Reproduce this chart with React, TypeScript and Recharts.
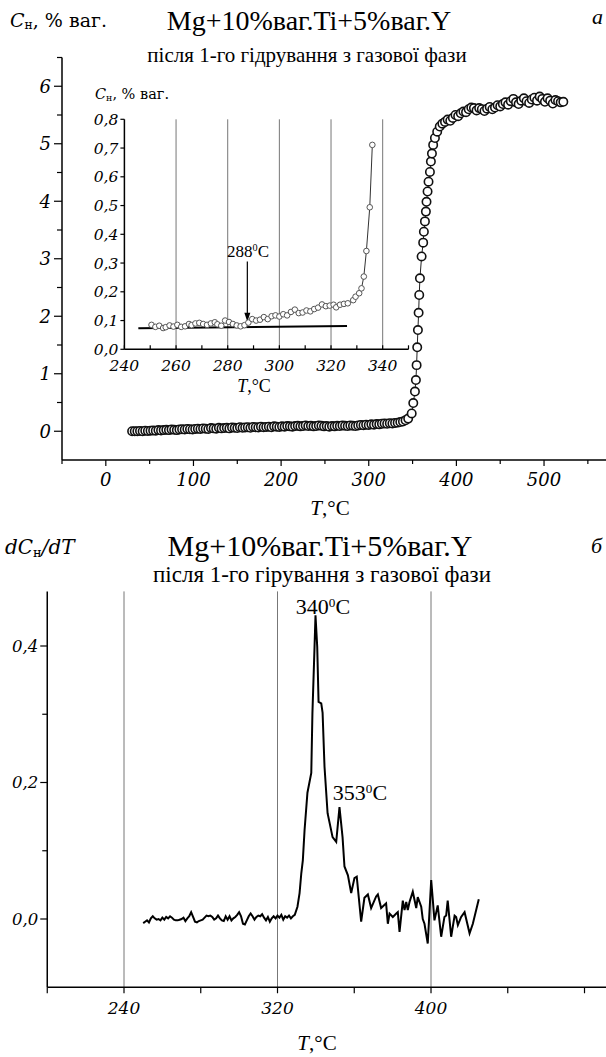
import React from "react";
import { LineChart, Line, XAxis, YAxis, ReferenceLine } from "recharts";

// ---------- (a) hydrogen content vs temperature ----------
const mainFlat: [number, number][] = [
  [30, 0], [33, 0], [36, 0], [39, 0.005], [42, 0], [45, 0.01], [48, 0.005], [51, 0.01],
  [54, 0.015], [57, 0.01], [60, 0.02], [63, 0.015], [66, 0.02], [69, 0.025], [72, 0.02],
  [75, 0.03], [78, 0.025], [81, 0.02], [84, 0.03], [87, 0.035], [90, 0.03], [93, 0.04],
  [96, 0.035], [99, 0.03], [102, 0.04], [105, 0.045], [108, 0.04], [111, 0.05], [114, 0.045],
  [117, 0.04], [120, 0.055], [123, 0.05], [126, 0.045], [129, 0.06], [132, 0.05], [135, 0.055],
  [138, 0.06], [141, 0.05], [144, 0.065], [147, 0.06], [150, 0.055], [153, 0.07], [156, 0.06],
  [159, 0.065], [162, 0.07], [165, 0.06], [168, 0.075], [171, 0.07], [174, 0.065], [177, 0.08],
  [180, 0.07], [183, 0.075], [186, 0.08], [189, 0.07], [192, 0.085], [195, 0.08], [198, 0.075],
  [201, 0.085], [204, 0.08], [207, 0.09], [210, 0.085], [213, 0.08], [216, 0.09], [219, 0.095],
  [222, 0.085], [225, 0.09], [228, 0.1], [231, 0.09], [234, 0.095], [237, 0.085], [240, 0.09],
  [243, 0.1], [246, 0.095], [249, 0.085], [252, 0.09], [255, 0.08], [258, 0.09], [261, 0.085],
  [264, 0.095], [267, 0.09], [270, 0.1], [273, 0.095], [276, 0.09], [279, 0.1], [282, 0.095],
  [285, 0.09], [288, 0.1], [291, 0.11], [294, 0.105], [297, 0.115], [300, 0.11], [303, 0.12],
  [306, 0.115], [309, 0.125], [312, 0.12], [315, 0.13], [318, 0.135], [321, 0.13], [324, 0.14],
  [327, 0.135], [330, 0.145], [333, 0.15], [336, 0.16], [339, 0.17], [342, 0.19], [345, 0.22],
];
const mainRise: [number, number][] = [
  [349, 0.31], [350.8, 0.49], [352.7, 0.69], [353.8, 0.89], [354.6, 1.15], [355.3, 1.46],
  [356.1, 1.76], [356.9, 2.06], [357.6, 2.37], [358.4, 2.66], [360.3, 3.04], [362.1, 3.28],
  [362.9, 3.47], [364.1, 3.65], [365.2, 3.82], [365.9, 3.99], [367.1, 4.17], [368.2, 4.34],
  [369.8, 4.51], [370.9, 4.69], [372.1, 4.83], [373.5, 4.98], [375.5, 5.1], [378.1, 5.21],
];
const mainPlateau: [number, number][] = [
  [381, 5.3], [384, 5.35], [387, 5.38], [390, 5.42], [393, 5.4], [396, 5.45], [399, 5.5],
  [402, 5.48], [405, 5.53], [408, 5.56], [411, 5.55], [414, 5.6], [417, 5.63], [420, 5.62],
  [423, 5.58], [426, 5.62], [429, 5.6], [432, 5.57], [435, 5.61], [438, 5.64], [441, 5.6],
  [444, 5.63], [447, 5.67], [450, 5.65], [453, 5.69], [456, 5.72], [459, 5.68], [462, 5.74],
  [465, 5.78], [468, 5.72], [471, 5.69], [474, 5.75], [477, 5.79], [480, 5.74], [483, 5.71],
  [486, 5.77], [489, 5.8], [492, 5.75], [495, 5.82], [498, 5.78], [501, 5.73], [504, 5.79],
  [507, 5.75], [510, 5.7], [513, 5.76], [516, 5.74], [519, 5.72], [522, 5.73],
];
const mainXTicks = [-50, 0, 50, 100, 150, 200, 250, 300, 350, 400, 450, 500, 550];
const mainXLabels = [0, 100, 200, 300, 400, 500];
const mainYTicks = [0, 0.5, 1, 1.5, 2, 2.5, 3, 3.5, 4, 4.5, 5, 5.5, 6, 6.5];
const mainYLabels = [0, 1, 2, 3, 4, 5, 6];

// ---------- inset: onset region ----------
const insetPoints: [number, number][] = [
  [250.5, 0.085], [252, 0.078], [253.5, 0.082], [255, 0.074], [256, 0.077], [257.5, 0.083],
  [259, 0.079], [260.5, 0.085], [262, 0.078], [263.5, 0.08], [265, 0.088], [266, 0.084],
  [267.5, 0.09], [269, 0.092], [270.5, 0.088], [272, 0.085], [273.5, 0.09], [275, 0.094],
  [276, 0.087], [277.5, 0.082], [279, 0.1], [280.5, 0.095], [282, 0.088], [283.5, 0.083],
  [285, 0.08], [286.5, 0.084], [288, 0.093], [289.5, 0.105], [291, 0.1], [292.5, 0.103],
  [294, 0.112], [295.5, 0.105], [297, 0.115], [298.5, 0.118], [300, 0.114], [301.5, 0.122],
  [303, 0.118], [304.5, 0.13], [306, 0.138], [307.5, 0.126], [309, 0.128], [310.5, 0.135],
  [312, 0.132], [313.5, 0.14], [315, 0.145], [316.5, 0.156], [318, 0.15], [319.5, 0.152],
  [321, 0.155], [322, 0.146], [323.5, 0.155], [325, 0.158], [326.5, 0.16], [328.6, 0.171],
  [329.5, 0.183], [330.9, 0.195], [331.8, 0.212], [332.7, 0.253], [333.7, 0.342],
  [335, 0.494], [336, 0.711],
];
const insetXTicks = [240, 250, 260, 270, 280, 290, 300, 310, 320, 330, 340, 350];
const insetXLabels = [240, 260, 280, 300, 320, 340];
const insetGrid = [260, 280, 300, 320, 340];
const insetYTicks = [0, 0.1, 0.2, 0.3, 0.4, 0.5, 0.6, 0.7, 0.8];
const insetBaseline = [{ x: 245.4, y: 0.073 }, { x: 326.2, y: 0.081 }];
const onsetArrow = [{ x: 287.6, y: 0.305 }, { x: 287.6, y: 0.096 }];

// ---------- (б) derivative dC/dT ----------
const derivFlat: [number, number][] = [
  [250, -0.006], [251, -0.004], [252, -0.002], [253, -0.005], [254, 0.001], [255, 0.004],
  [256, 0.001], [257, -0.001], [258, 0], [259, -0.002], [260, 0.002], [261, -0.001],
  [262, 0.003], [263, 0.001], [264, 0.004], [265, 0.002], [266, -0.001], [267, -0.002],
  [268, -0.002], [269, -0.001], [270, 0], [271, 0.002], [272, -0.003], [273, 0.001],
  [274, 0.004], [275, 0.01], [276, 0.003], [277, -0.004], [278, -0.005], [279, -0.003],
  [280, -0.002], [281, -0.001], [282, 0.002], [283, 0.005], [284, 0.004], [285, 0.005],
  [286, 0.003], [287, -0.001], [288, 0.001], [289, 0.005], [290, 0.001], [291, -0.002],
  [292, -0.003], [293, 0.004], [294, -0.001], [295, 0.004], [296, -0.002], [297, 0.001],
  [298, 0.003], [299, 0.006], [300, 0.01], [301, 0.004], [302, -0.007], [303, -0.008],
  [304, -0.002], [305, 0.004], [306, 0.008], [307, 0.004], [308, -0.001], [309, 0.003],
  [310, 0.005], [311, 0.004], [312, 0.007], [313, 0.002], [314, -0.002], [315, 0.003],
  [316, -0.004], [317, 0.001], [318, 0.004], [319, 0.001], [320, 0.005], [321, 0.002],
  [322, 0.006], [323, -0.001], [324, 0.004], [325, 0.002], [326, 0.005], [327, 0.001],
  [328, 0.004],
];
const derivPeak: [number, number][] = [
  [329, 0.006], [330.4, 0.018], [331.5, 0.038], [332.4, 0.067], [333.2, 0.086], [334.1, 0.13],
  [335.6, 0.185], [337.6, 0.214], [338.2, 0.302], [339.3, 0.399], [339.8, 0.445],
  [340.7, 0.399], [341.4, 0.318], [342.8, 0.316], [343.5, 0.302], [344.5, 0.223],
  [346.1, 0.155], [348.7, 0.12], [350.6, 0.113], [352.3, 0.164], [353.9, 0.12],
];
const derivTail: [number, number][] = [
  [354.9, 0.077], [356.7, 0.064], [358.4, 0.038], [360.1, 0.06], [361.3, 0.062],
  [363.6, -0.004], [365.3, 0.031], [367.1, 0.036], [368.8, 0.016], [371.4, 0.033],
  [372.3, 0.036], [374, 0.016], [376.6, 0.023], [377.5, -0.007], [378.4, 0.008],
  [380.1, 0.003], [381.9, 0.008], [382.7, 0.01], [383.6, -0.019], [385.3, 0.027],
  [386.2, 0.013], [387.1, 0.025], [387.9, 0.013], [388.8, 0.025], [390.5, 0.04],
  [392.3, 0.016], [393.1, 0.032], [394.9, 0.018], [395.7, 0], [396.6, -0.007],
  [398.3, -0.036], [400.1, 0.057], [401.8, -0.002], [403.5, 0.02], [405.3, -0.026],
  [407, 0.003], [407.9, 0.005], [408.7, 0.027], [410.5, -0.026], [412.3, 0.005],
  [413.1, 0.003], [414, -0.009], [415.7, 0.003], [417.5, 0.01], [420.1, -0.021],
  [421.8, -0.007], [424.9, 0.029],
];
const derivXTicks = [200, 240, 280, 320, 360, 400, 440, 480];
const derivXLabels = [240, 320, 400];
const derivGrid = [240, 320, 400];
const derivYTicks = [0, 0.1, 0.2, 0.3, 0.4];
const derivYLabels = [0, 0.2, 0.4];

const toRows = (pts: [number, number][]) => pts.map(([t, v]) => ({ t, v }));
const mainData = toRows([...mainFlat, ...mainRise, ...mainPlateau]);
const insetData = toRows(insetPoints);
const derivData = toRows([...derivFlat, ...derivPeak, ...derivTail]);

const TICK_FONT = "'DejaVu Serif', serif";
const TEXT_FONT = "'Liberation Serif', 'Times New Roman', serif";

const comma = (v: number) => v.toFixed(1).replace(".", ",");
const has = (arr: number[], v: number) => arr.some((a) => Math.abs(a - v) < 1e-6);

type TickOpts = {
  side: "left" | "bottom";
  labels: number[];
  major: number;
  minor: number;
  up?: boolean;
  gap: number;
  size: number;
  fmt: (v: number) => string;
};

const makeTick = (o: TickOpts) => (props: any) => {
  const { x, y, payload } = props;
  const v = payload.value;
  const lab = has(o.labels, v);
  const len = lab ? o.major : o.minor;
  if (o.side === "left") {
    return (
      <g>
        <line x1={x - len} x2={x} y1={y} y2={y} stroke="#000" strokeWidth={1.2} />
        {lab && (
          <text x={x - len - o.gap} y={y} dy="0.36em" textAnchor="end" fontFamily={TICK_FONT}
            fontStyle="italic" fontSize={o.size} fill="#000">
            {o.fmt(v)}
          </text>
        )}
      </g>
    );
  }
  const dir = o.up ? -1 : 1;
  return (
    <g>
      <line x1={x} x2={x} y1={y} y2={y + dir * len} stroke="#000" strokeWidth={1.2} />
      {lab && (
        <text x={x} y={y + o.gap} dy="0.36em" textAnchor="middle" fontFamily={TICK_FONT}
          fontStyle="italic" fontSize={o.size} fill="#000">
          {o.fmt(v)}
        </text>
      )}
    </g>
  );
};

const ArrowShape = (p: any) => {
  const { x1, y1, x2, y2 } = p;
  return (
    <g>
      <line x1={x1} y1={y1} x2={x2} y2={y2 - 6} stroke="#000" strokeWidth={1.2} />
      <path d={`M${x2 - 3},${y2 - 9} L${x2 + 3},${y2 - 9} L${x2},${y2} Z`} fill="#000" />
    </g>
  );
};

const Txt: React.FC<{ x: number; y: number; size: number; anchor?: "left" | "center"; italic?: boolean; font?: string; children: React.ReactNode }> = ({
  x, y, size, anchor = "center", italic, font = TEXT_FONT, children,
}) => (
  <div
    style={{
      position: "absolute",
      left: x,
      top: y,
      transform: anchor === "center" ? "translate(-50%, -50%)" : "translate(0, -50%)",
      fontFamily: font,
      fontSize: size,
      fontStyle: italic ? "italic" : "normal",
      lineHeight: 1,
      whiteSpace: "nowrap",
      color: "#000",
    }}
  >
    {children}
  </div>
);

const sup = (s: string) => <sup style={{ fontSize: "0.6em", verticalAlign: "0.55em" }}>{s}</sup>;
const subN = <sub style={{ fontSize: "0.65em", verticalAlign: "-0.2em", fontStyle: "normal" }}>н</sub>;
const TdegC = () => (
  <>
    <i>T</i>,°C
  </>
);

const axisStroke = { stroke: "#000", strokeWidth: 1.5 };

export default function App() {
  return (
    <div style={{ position: "absolute", left: 0, top: 0, width: 606, height: 1057, background: "#fff", overflow: "hidden" }}>
      {/* top chart */}
      <div style={{ position: "absolute", left: 0, top: 0 }}>
        <LineChart width={606} height={530} data={mainData} margin={{ top: 57.5, right: 0, bottom: 30, left: 0 }}>
          <XAxis dataKey="t" type="number" domain={[-50, 570.7]} allowDataOverflow ticks={mainXTicks}
            interval={0} height={40} tickSize={0} tickMargin={0} tickLine={false} axisLine={axisStroke}
            tick={makeTick({ side: "bottom", labels: mainXLabels, major: 6, minor: 4, gap: 20, size: 18, fmt: (v) => String(v) })} />
          <YAxis dataKey="v" type="number" domain={[-0.5, 6.5]} allowDataOverflow ticks={mainYTicks}
            interval={0} width={62} tickSize={0} tickMargin={0} tickLine={false} axisLine={axisStroke}
            tick={makeTick({ side: "left", labels: mainYLabels, major: 8, minor: 5, gap: 3, size: 18, fmt: (v) => String(v) })} />
          <Line dataKey="v" type="linear" stroke="#222" strokeWidth={1} isAnimationActive={false}
            dot={{ r: 4.2, stroke: "#111", strokeWidth: 1.6, fill: "#fff" }} />
        </LineChart>
      </div>

      {/* inset */}
      <div style={{ position: "absolute", left: 70, top: 100 }}>
        <LineChart width={340} height={290} data={insetData} margin={{ top: 19.3, right: 1.5, bottom: 10.7, left: 0 }}>
          <XAxis dataKey="t" type="number" domain={[240, 350]} allowDataOverflow ticks={insetXTicks}
            interval={0} height={30} tickSize={0} tickMargin={0} tickLine={false} axisLine={axisStroke}
            tick={makeTick({ side: "bottom", labels: insetXLabels, major: 4, minor: 4, up: true, gap: 16, size: 15.5, fmt: (v) => String(v) })} />
          <YAxis dataKey="v" type="number" domain={[0, 0.8]} allowDataOverflow ticks={insetYTicks}
            interval={0} width={54.4} tickSize={0} tickMargin={0} tickLine={false} axisLine={axisStroke}
            tick={makeTick({ side: "left", labels: insetYTicks, major: 4, minor: 4, gap: 2, size: 15.5, fmt: comma })} />
          {insetGrid.map((g) => (
            <ReferenceLine key={g} x={g} stroke="#777" strokeWidth={1} />
          ))}
          <ReferenceLine segment={insetBaseline} stroke="#000" strokeWidth={2} />
          <ReferenceLine segment={onsetArrow} shape={ArrowShape} />
          <Line dataKey="v" type="linear" stroke="#333" strokeWidth={1} isAnimationActive={false}
            dot={{ r: 2.8, stroke: "#555", strokeWidth: 1, fill: "#fff" }} />
        </LineChart>
      </div>

      {/* bottom chart */}
      <div style={{ position: "absolute", left: 0, top: 560 }}>
        <LineChart width={606} height={497} data={derivData} margin={{ top: 31.4, right: 0, bottom: 29.75, left: 0 }}>
          <XAxis dataKey="t" type="number" domain={[200, 491.2]} allowDataOverflow ticks={derivXTicks}
            interval={0} height={40} tickSize={0} tickMargin={0} tickLine={false} axisLine={axisStroke}
            tick={makeTick({ side: "bottom", labels: derivXLabels, major: 6, minor: 6, gap: 21, size: 17, fmt: (v) => String(v) })} />
          <YAxis dataKey="v" type="number" domain={[-0.1, 0.48]} allowDataOverflow ticks={derivYTicks}
            interval={0} width={47.25} tickSize={0} tickMargin={0} tickLine={false} axisLine={axisStroke}
            tick={makeTick({ side: "left", labels: derivYLabels, major: 7, minor: 5, gap: 2, size: 16.5, fmt: comma })} />
          {derivGrid.map((g) => (
            <ReferenceLine key={g} x={g} stroke="#777" strokeWidth={1} />
          ))}
          <Line dataKey="v" type="linear" stroke="#000" strokeWidth={2} dot={false} isAnimationActive={false} />
        </LineChart>
      </div>

      {/* texts: top */}
      <Txt x={10} y={21} size={19} anchor="left" font={TICK_FONT}><i>C</i>{subN}, % ваг.</Txt>
      <Txt x={309} y={21} size={28}>Mg+10%ваг.Ti+5%ваг.Y</Txt>
      <Txt x={307} y={55} size={21}>після 1-го гідрування з газової фази</Txt>
      <Txt x={592} y={17} size={22} anchor="left" italic>a</Txt>
      <Txt x={330} y={508} size={21}><TdegC /></Txt>
      <Txt x={95} y={95} size={14.5} anchor="left" font={TICK_FONT}><i>C</i>{subN}, % ваг.</Txt>
      <Txt x={254} y={386} size={18}><TdegC /></Txt>
      <Txt x={248} y={251} size={17}>288{sup("0")}C</Txt>

      {/* texts: bottom */}
      <Txt x={5} y={548} size={20} anchor="left" font={TICK_FONT} italic>dC{subN}/dT</Txt>
      <Txt x={320} y={546} size={30}>Mg+10%ваг.Ti+5%ваг.Y</Txt>
      <Txt x={322} y={574} size={23}>після 1-го гірування з газової фази</Txt>
      <Txt x={591} y={546} size={22} anchor="left" italic>б</Txt>
      <Txt x={323} y={607} size={22}>340{sup("0")}C</Txt>
      <Txt x={360} y={793} size={22}>353{sup("0")}C</Txt>
      <Txt x={317} y={1043} size={21}><TdegC /></Txt>
    </div>
  );
}
